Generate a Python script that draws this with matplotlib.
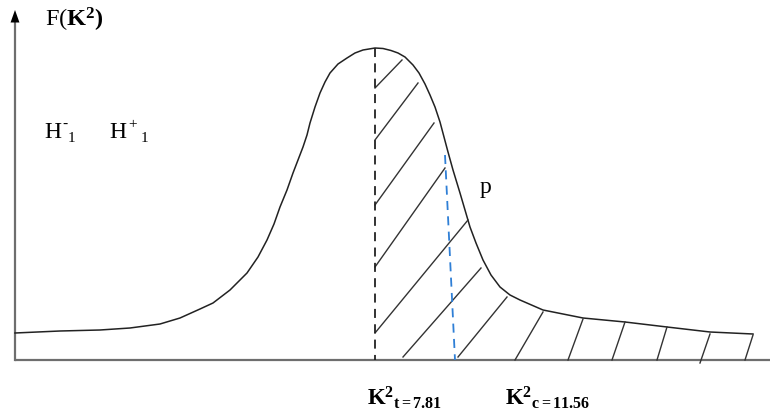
import matplotlib.pyplot as plt

plt.rcParams['mathtext.fontset'] = 'custom'
plt.rcParams['mathtext.rm'] = 'Liberation Serif'
plt.rcParams['mathtext.it'] = 'Liberation Serif:italic'
plt.rcParams['mathtext.bf'] = 'Liberation Serif:bold'

BASE = 360  # baseline in picture rows; heights below are measured above it

# density curve (x, row)
curve_x = [15, 60, 100, 130, 160, 180, 200, 213, 230, 247, 258, 267, 274, 280, 287,
           293, 298, 303, 307, 310, 315, 320, 325, 330, 338, 347, 355, 363, 375,
           383, 391, 398, 405, 413, 419, 425, 430, 435, 440, 444, 448, 453, 460,
           465, 470, 476, 483, 491, 500, 510, 520, 543, 583, 625, 667, 710, 753]
curve_row = [333, 331, 330, 328, 324, 318, 309, 303, 290, 273, 257, 240, 224, 207, 190,
             173, 160, 147, 135, 123, 107, 93, 82, 73, 64, 58, 53, 50, 48,
             48.5, 50.5, 53, 57, 65, 73, 84, 95, 107, 122, 137, 152, 170, 193,
             210, 227, 243, 260, 275, 287, 295, 300, 310, 318, 322, 327, 332, 334]

# hatch strokes: top end on the curve, bottom end on the dashed line / axis
hatch_top_x = [402, 418, 434, 445, 468, 481, 507, 543, 583, 625, 667, 710, 753]
hatch_top_row = [60, 83, 123, 168, 220, 268, 297, 312, 319, 322, 327, 334, 335]
hatch_bot_x = [375, 375, 375, 375, 375, 403, 458, 515, 568, 612, 657, 700, 745]
hatch_bot_row = [88, 140, 205, 267, 333, 357, 357, 360, 360, 360, 360, 363, 360]

peak_x = 375
peak_row = 48
crit_x = [445, 455]
crit_row = [155, 360]

curve_y = [BASE - r for r in curve_row]

fig = plt.figure(figsize=(7.74, 4.17), dpi=100)
ax = fig.add_axes([0, 0, 1, 1])
ax.set_xlim(0, 774)
ax.set_ylim(BASE - 417, BASE)
ax.axis('off')

# axes
ax.plot([15, 770], [0, 0], color='#6e6e6e', lw=1.6, solid_capstyle='butt')
ax.plot([15, 15], [0, BASE - 22], color='#6e6e6e', lw=1.6)
ax.annotate('', xy=(15, BASE - 10), xytext=(15, BASE - 23),
            arrowprops=dict(arrowstyle='-|>,head_length=0.9,head_width=0.32',
                            color='black', lw=0, shrinkA=0, shrinkB=0))

ax.plot(curve_x, curve_y, color='#222222', lw=1.1)

for x0, r0, x1, r1 in zip(hatch_top_x, hatch_top_row, hatch_bot_x, hatch_bot_row):
    ax.plot([x0, x1], [BASE - r0, BASE - r1], color='#333333', lw=1.0)

ax.plot([peak_x, peak_x], [BASE - peak_row, 0], color='#222222', lw=1.3,
        dashes=(5, 3.5))
ax.plot(crit_x, [BASE - r for r in crit_row], color='#2f7fd6', lw=1.3,
        dashes=(5, 3.5))

serif = 'Liberation Serif'
ax.text(45, BASE - 20, r'F($\mathbf{K}^{\mathbf{2}}$$\mathbf{)}$', fontsize=17.5,
        family=serif, va='center', ha='left')

# H-1 and H+1 with hand placed super/subscripts
for hx, sign, sx, subx in [(44, '-', 62, 68), (109, '+', 128, 141)]:
    ax.text(hx, BASE - 138, 'H', fontsize=17, family=serif, va='baseline')
    ax.text(sx, BASE - 128, sign, fontsize=11, family=serif, va='baseline')
    ax.text(subx, BASE - 142, '1', fontsize=11, family=serif, va='baseline')

ax.text(480, BASE - 187, 'p', fontsize=17, family=serif, va='center', ha='left')
ax.text(367, BASE - 398, r'$\mathbf{K}^{\mathbf{2}}{}_{\mathbf{t=7.81}}$',
        fontsize=16.5, va='center', ha='left')
ax.text(505, BASE - 398, r'$\mathbf{K}^{\mathbf{2}}{}_{\mathbf{c=11.56}}$',
        fontsize=16.5, va='center', ha='left')

fig.savefig('out.png', dpi=100)
